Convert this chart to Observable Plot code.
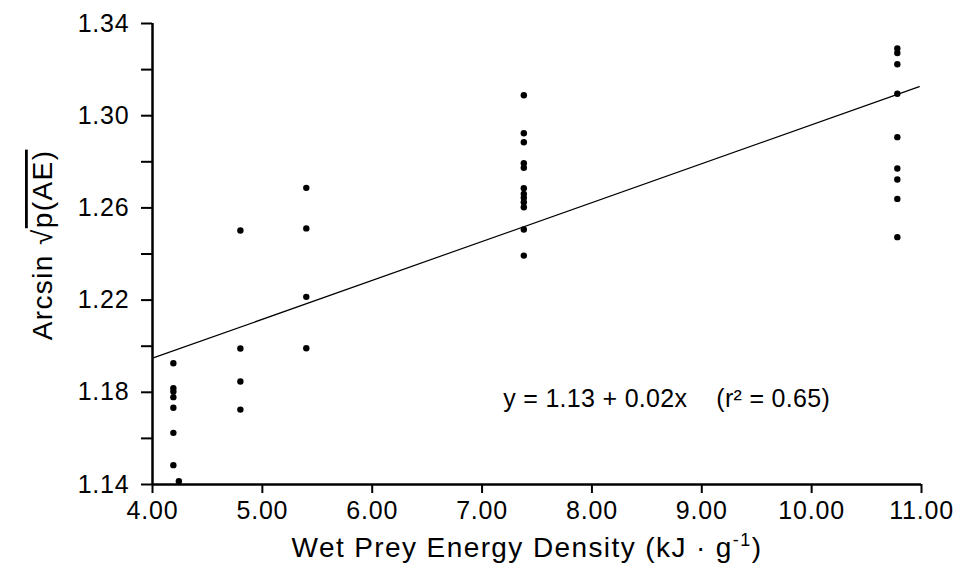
<!DOCTYPE html>
<html>
<head>
<meta charset="utf-8">
<script src="https://cdn.jsdelivr.net/npm/d3@7"></script>
<script src="https://cdn.jsdelivr.net/npm/@observablehq/plot@0.6"></script>
<style>
  html, body { margin: 0; padding: 0; background: #fff; }
</style>
</head>
<body>
<div id="chart"></div>
<script>
// Column x positions (kJ/g) and arcsin-transformed AE values per column
const colX = [4.19, 4.8, 5.4, 7.38, 10.78];
const col1 = [1.1926, 1.1818, 1.1803, 1.1779, 1.1733, 1.1624, 1.1484];
const col2 = [1.2502, 1.1990, 1.1847, 1.1725];
const col3 = [1.2687, 1.2511, 1.2214, 1.1991];
const col4 = [1.3089, 1.2924, 1.2885, 1.2794, 1.2774, 1.2685, 1.2661, 1.2644, 1.2625, 1.2603, 1.2506, 1.2393];
const col5 = [1.3292, 1.3272, 1.3223, 1.3095, 1.2907, 1.2771, 1.2723, 1.2639, 1.2473];
const extraX = [4.24];
const extraY = [1.1414];

// Fitted regression line endpoints as drawn
const fitX = [4.0, 10.98];
const fitY = [1.1948, 1.3126];

const xTicks = [4, 5, 6, 7, 8, 9, 10, 11];
const yTicks = [1.14, 1.16, 1.18, 1.20, 1.22, 1.24, 1.26, 1.28, 1.30, 1.32, 1.34];
const yLabelTicks = [1.14, 1.18, 1.22, 1.26, 1.30, 1.34];

const xTitle = "Wet Prey Energy Density (kJ \u00B7 g";
const xTitleSup = "-1";
const yTitleA = "Arcsin ";
const yTitleB = "p(AE)";
const equation = "y = 1.13 + 0.02x\u00A0\u00A0\u00A0\u00A0(r\u00B2 = 0.65)";
const eqPos = {x: 8.68, y: 1.1773};

const cols = [col1, col2, col3, col4, col5];
const points = [];
cols.forEach((c, i) => c.forEach(v => points.push({x: colX[i], y: v})));
extraX.forEach((x, i) => points.push({x, y: extraY[i]}));
const fit = fitX.map((x, i) => ({x, y: fitY[i]}));

const font = "'Liberation Sans', Arial, Helvetica, sans-serif";

const chart = Plot.plot({
  width: 954,
  height: 578,
  marginLeft: 152,
  marginRight: 33,
  marginTop: 23,
  marginBottom: 94,
  style: {fontFamily: font, fontSize: "25px", color: "#000", background: "#fff"},
  x: {domain: [4, 11]},
  y: {domain: [1.14, 1.34]},
  marks: [
    Plot.axisX({
      ticks: xTicks, tickSize: 9, tickPadding: 8, strokeWidth: 2,
      tickFormat: d3.format(".2f"), label: null, fontSize: 25
    }),
    Plot.axisY({
      ticks: yTicks, tickSize: 11, tickPadding: 12, strokeWidth: 2,
      tickFormat: d => yLabelTicks.some(t => Math.abs(t - d) < 1e-9) ? d3.format(".2f")(d) : "",
      label: null, fontSize: 25
    }),
    Plot.ruleX([4], {y1: 1.14, y2: 1.34, strokeWidth: 2.5}),
    Plot.ruleY([1.14], {x1: 4, x2: 11, strokeWidth: 2.5}),
    Plot.line(fit, {x: "x", y: "y", stroke: "#000", strokeWidth: 1.2}),
    Plot.dot(points, {x: "x", y: "y", r: 3.2, fill: "#000"}),
    Plot.text([eqPos], {x: "x", y: "y", text: () => equation, fontSize: 25, textAnchor: "middle"})
  ]
});

document.getElementById("chart").appendChild(chart);

const svg = d3.select(chart);
svg.selectAll("text")
  .filter(function() { return /^\d+\.\d\d$/.test(this.textContent.trim()); })
  .attr("letter-spacing", 0.8);
svg.selectAll("text")
  .filter(function() { return this.textContent.startsWith("y ="); })
  .attr("letter-spacing", 0.3);

const xt = svg.append("text")
  .attr("x", 527).attr("y", 557)
  .attr("text-anchor", "middle")
  .attr("font-size", 28)
  .attr("letter-spacing", 1.4)
  .attr("font-family", font)
  .attr("fill", "#000");
xt.append("tspan").text(xTitle);
xt.append("tspan").attr("font-size", 18).attr("dy", -11).text(xTitleSup);
xt.append("tspan").attr("dy", 11).text(")");

const yt = svg.append("text")
  .attr("transform", "translate(52,245) rotate(-90)")
  .attr("text-anchor", "middle")
  .attr("font-size", 28)
  .attr("letter-spacing", 1.4)
  .attr("font-family", font)
  .attr("fill", "#000");
yt.append("tspan").text(yTitleA);
yt.append("tspan").text("\u221A");
yt.append("tspan").attr("text-decoration", "overline").style("text-decoration", "overline").text(yTitleB);
</script>
</body>
</html>
